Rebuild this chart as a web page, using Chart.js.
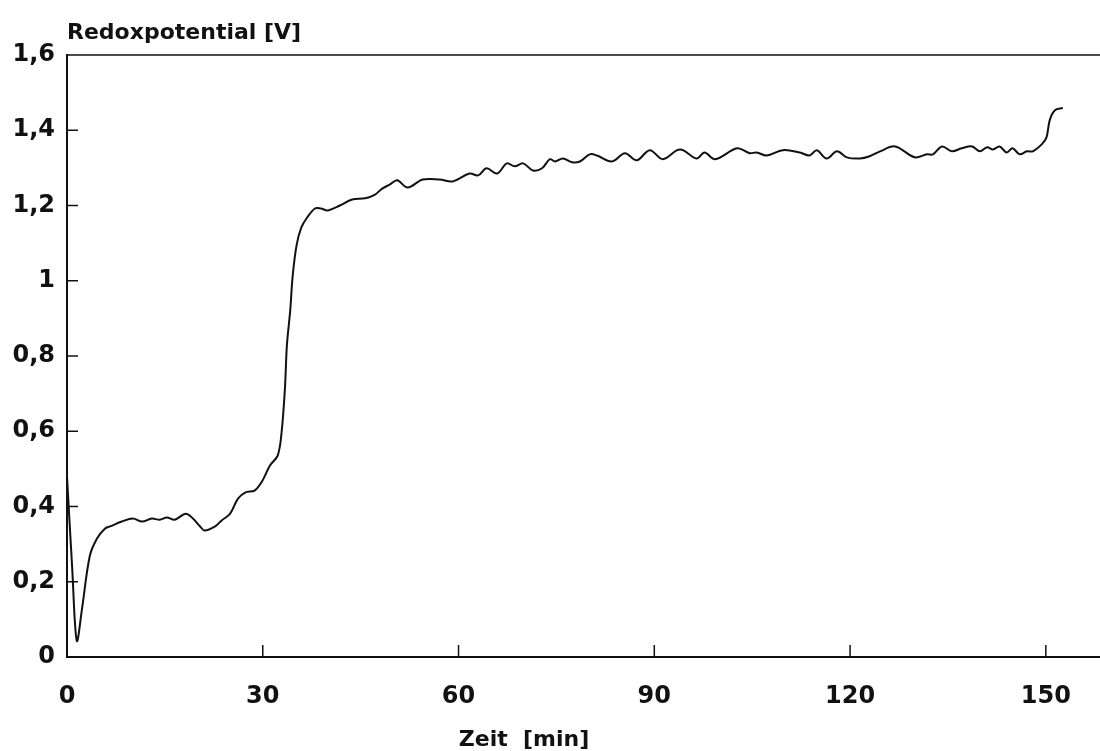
<!DOCTYPE html>
<html>
<head>
<meta charset="utf-8">
<script src="https://cdn.jsdelivr.net/npm/chart.js@4/dist/chart.umd.min.js"></script>
<style>
  body { margin: 0; background: #fff; }
  #wrap { width: 1100px; height: 751px; }
</style>
</head>
<body>
<div id="wrap"><canvas id="redoxChart"></canvas></div>
<script>
const zeit = [0, 0.8, 1.5, 2.3, 3.5, 4.6, 5.8, 6.6, 8.4, 10.1, 11.5, 13.0, 14.2, 15.3, 16.5, 18.2, 19.3, 20.4, 21.1, 22.7,
  23.7, 25.0, 26.2, 27.3, 28.8, 29.9, 31.1, 32.3, 32.9, 33.4, 33.7, 34.2, 34.6, 35.2, 35.9, 36.8, 38.0, 38.9, 40.0, 41.8,
  43.7, 45.7, 47.2, 48.3, 49.5, 50.6, 52.2, 54.5, 57.1, 59.1, 61.7, 63.0, 64.3, 65.9, 67.4, 68.6, 69.9, 71.4, 72.8, 74.0,
  74.8, 76.0, 77.4, 78.6, 80.1, 81.2, 83.5, 85.5, 87.3, 89.3, 91.3, 93.5, 94.4, 96.5, 97.7, 99.3, 102.7, 104.6, 105.7, 107.2,
  109.7, 112.3, 113.8, 114.9, 116.4, 118.0, 119.5, 121.5, 123.0, 124.6, 126.9, 129.9, 131.8, 132.7, 134.1, 135.6, 137.1, 138.7, 139.9, 141.0,
  141.9, 142.9, 144.0, 144.9, 146.0, 147.1, 148.0, 149.4, 150.1, 150.6, 151.4, 152.6];
const redox = [0.48, 0.235, 0.043, 0.128, 0.269, 0.315, 0.341, 0.347, 0.36, 0.368, 0.36, 0.368, 0.365, 0.371, 0.365, 0.381, 0.368, 0.347, 0.336, 0.347,
  0.363, 0.381, 0.421, 0.437, 0.443, 0.467, 0.509, 0.536, 0.6, 0.715, 0.829, 0.92, 1.016, 1.096, 1.141, 1.168, 1.192, 1.192, 1.187, 1.2,
  1.216, 1.219, 1.229, 1.245, 1.256, 1.267, 1.248, 1.269, 1.269, 1.264, 1.285, 1.28, 1.299, 1.285, 1.312, 1.304, 1.312, 1.293, 1.299, 1.323,
  1.317, 1.325, 1.315, 1.317, 1.336, 1.333, 1.317, 1.339, 1.32, 1.347, 1.323, 1.347, 1.347, 1.325, 1.341, 1.323, 1.352, 1.339, 1.341, 1.333,
  1.347, 1.341, 1.333, 1.347, 1.325, 1.344, 1.328, 1.325, 1.331, 1.344, 1.357, 1.328, 1.336, 1.336, 1.357, 1.344, 1.352, 1.357, 1.344, 1.355,
  1.349, 1.357, 1.341, 1.352, 1.336, 1.344, 1.344, 1.363, 1.381, 1.427, 1.453, 1.459];

const xTicks = [0, 30, 60, 90, 120, 150];
const yTicks = [0, 0.2, 0.4, 0.6, 0.8, 1, 1.2, 1.4, 1.6];
const yTitel = "Redoxpotential [V]";
const xTitel = "Zeit  [min]";

const schrift = "'DejaVu Sans', sans-serif";

// Punkte fuer die Linie
const punkte = zeit.map((t, i) => ({ x: t, y: redox[i] }));

// kleine Striche nach innen, oberer Rahmen und Achsentitel
const rahmenPlugin = {
  id: "rahmen",
  afterDraw(chart) {
    const ctx = chart.ctx;
    const area = chart.chartArea;
    const sx = chart.scales.x;
    const sy = chart.scales.y;
    ctx.save();
    ctx.strokeStyle = "#111";
    ctx.lineWidth = 1.6;
    ctx.beginPath();
    ctx.moveTo(area.left, area.top);
    ctx.lineTo(area.right, area.top);
    ctx.stroke();

    ctx.lineWidth = 1.5;
    yTicks.forEach((v) => {
      if (v === 0 || v === 1.6) return;
      const py = sy.getPixelForValue(v);
      ctx.beginPath();
      ctx.moveTo(area.left, py);
      ctx.lineTo(area.left + 11, py);
      ctx.stroke();
    });
    xTicks.forEach((v) => {
      if (v === 0) return;
      const px = sx.getPixelForValue(v);
      ctx.beginPath();
      ctx.moveTo(px, area.bottom);
      ctx.lineTo(px, area.bottom - 12);
      ctx.stroke();
    });

    ctx.fillStyle = "#111";
    ctx.font = "bold 22px " + schrift;
    ctx.textAlign = "left";
    ctx.textBaseline = "alphabetic";
    ctx.fillText(yTitel, area.left, 39);

    ctx.textAlign = "center";
    ctx.fillText(xTitel, 524, 746);
    ctx.restore();
  },
};

const ctx = document.getElementById("redoxChart").getContext("2d");
const redoxChart = new Chart(ctx, {
  type: "line",
  data: {
    datasets: [
      {
        label: "Redoxpotential",
        data: punkte,
        borderColor: "#111",
        borderWidth: 2,
        pointRadius: 0,
        fill: false,
        tension: 0.35,
      },
    ],
  },
  options: {
    responsive: true,
    maintainAspectRatio: false,
    animation: false,
    layout: { padding: { top: 55, right: 0, bottom: 0, left: 0 } },
    plugins: {
      legend: { display: false },
      tooltip: { enabled: false },
    },
    scales: {
      x: {
        type: "linear",
        min: 0,
        max: 158.3,
        afterFit: (s) => { s.height = 94; },
        afterBuildTicks: (s) => { s.ticks = xTicks.map((v) => ({ value: v })); },
        grid: { display: false, drawTicks: false },
        border: { display: true, color: "#111", width: 2 },
        ticks: {
          color: "#111",
          padding: 25,
          maxRotation: 0,
          font: { family: schrift, size: 24, weight: "bold" },
        },
      },
      y: {
        min: 0,
        max: 1.6,
        afterFit: (s) => { s.width = 67; },
        afterBuildTicks: (s) => { s.ticks = yTicks.map((v) => ({ value: v })); },
        grid: { display: false, drawTicks: false },
        border: { display: true, color: "#111", width: 2 },
        ticks: {
          color: "#111",
          padding: 12,
          font: { family: schrift, size: 24, weight: "bold" },
          callback: (v) => String(Number(v.toFixed(1))).replace(".", ","),
        },
      },
    },
  },
  plugins: [rahmenPlugin],
});
</script>
</body>
</html>
